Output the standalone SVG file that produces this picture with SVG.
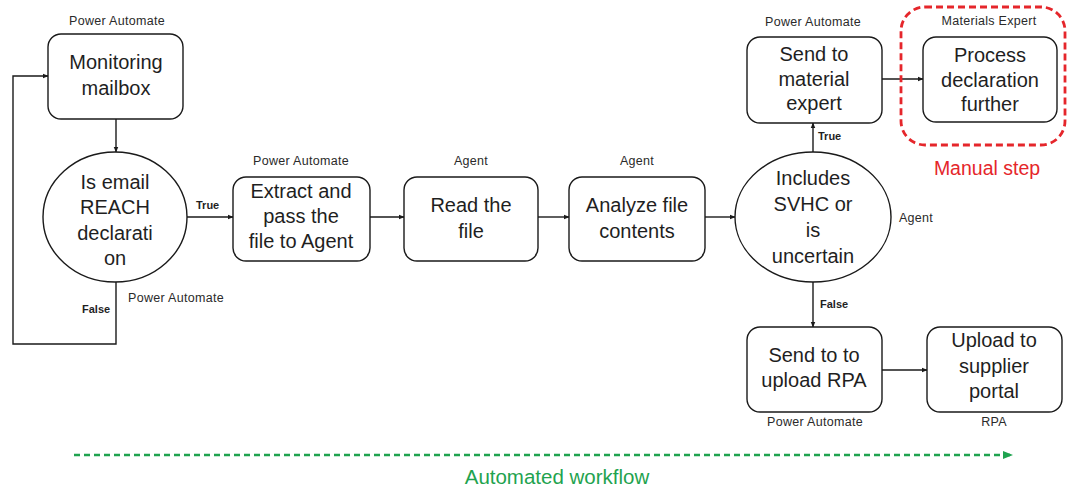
<svg xmlns="http://www.w3.org/2000/svg" width="1067" height="492" viewBox="0 0 1067 492">
  <defs>
    <marker id="arrow" viewBox="0 0 10 10" refX="9" refY="5" markerWidth="6" markerHeight="6" orient="auto" markerUnits="userSpaceOnUse">
      <path d="M0,1 L10,5 L0,9 z" fill="#1a1a1a"/>
    </marker>
    <marker id="arrow-green" viewBox="0 0 10 10" refX="9" refY="5" markerWidth="10" markerHeight="10" orient="auto" markerUnits="userSpaceOnUse">
      <path d="M0,1 L10,5 L0,9 z" fill="#1fa34f"/>
    </marker>
    <style>
      .box { fill: #ffffff; stroke: #1a1a1a; stroke-width: 1.4; }
      .main { font-family: "Liberation Sans", Arial, sans-serif; font-size: 20px; fill: #1f1f1f; text-anchor: middle; }
      .role { font-family: "Liberation Sans", Arial, sans-serif; font-size: 12.5px; letter-spacing: 0.3px; fill: #2a2a2a; text-anchor: middle; }
      .cond { font-family: "Liberation Sans", Arial, sans-serif; font-size: 11px; font-weight: bold; fill: #1f1f1f; }
      .link { fill: none; stroke: #1a1a1a; stroke-width: 1.4; marker-end: url(#arrow); }
      .red { font-family: "Liberation Sans", Arial, sans-serif; font-size: 19.5px; fill: #e5262b; text-anchor: middle; }
      .green { font-family: "Liberation Sans", Arial, sans-serif; font-size: 20.5px; fill: #1fa34f; text-anchor: middle; }
    </style>
  </defs>

  <rect width="1067" height="492" fill="#ffffff"/>

  <!-- connectors -->
  <g id="connectors">
    <path class="link" d="M116,119 V152"/>
    <path class="link" d="M187,217 H233"/>
    <path class="link" d="M116,282 V344 H13 V76 H48"/>
    <path class="link" d="M370,217 H404"/>
    <path class="link" d="M538,217 H569"/>
    <path class="link" d="M705,217 H735"/>
    <path class="link" d="M813,152 V123"/>
    <path class="link" d="M882,79 H923"/>
    <path class="link" d="M813,282 V327"/>
    <path class="link" d="M882,370 H927"/>
    <text class="cond" x="196" y="209">True</text>
    <text class="cond" x="82" y="313">False</text>
    <text class="cond" x="818" y="140">True</text>
    <text class="cond" x="820" y="308">False</text>
  </g>

  <!-- manual step frame -->
  <g id="manual-step">
    <rect x="901" y="7" width="164" height="138" rx="24" fill="none" stroke="#e5262b" stroke-width="2.8" stroke-dasharray="7 4"/>
    <text class="red" x="987" y="175">Manual step</text>
  </g>

  <!-- nodes -->
  <g id="monitoring-mailbox">
    <text class="role" x="117" y="25">Power Automate</text>
    <rect class="box" x="48" y="34" width="135" height="85" rx="13"/>
    <text class="main" x="116" y="69">Monitoring</text>
    <text class="main" x="116" y="95">mailbox</text>
  </g>

  <g id="is-reach-declaration">
    <ellipse class="box" cx="115" cy="217" rx="72" ry="65"/>
    <text class="main" x="115" y="189">Is email</text>
    <text class="main" x="115" y="214">REACH</text>
    <text class="main" x="115" y="240">declarati</text>
    <text class="main" x="115" y="265">on</text>
    <text class="role" x="176" y="302">Power Automate</text>
  </g>

  <g id="extract-and-pass">
    <text class="role" x="301" y="165">Power Automate</text>
    <rect class="box" x="233" y="177" width="137" height="84" rx="13"/>
    <text class="main" x="301" y="198">Extract and</text>
    <text class="main" x="301" y="223">pass the</text>
    <text class="main" x="301" y="248">file to Agent</text>
  </g>

  <g id="read-file">
    <text class="role" x="471" y="165">Agent</text>
    <rect class="box" x="404" y="177" width="134" height="84" rx="13"/>
    <text class="main" x="471" y="212">Read the</text>
    <text class="main" x="471" y="238">file</text>
  </g>

  <g id="analyze-contents">
    <text class="role" x="637" y="165">Agent</text>
    <rect class="box" x="569" y="177" width="136" height="84" rx="13"/>
    <text class="main" x="637" y="212">Analyze file</text>
    <text class="main" x="637" y="238">contents</text>
  </g>

  <g id="includes-svhc">
    <ellipse class="box" cx="813" cy="217" rx="78" ry="65"/>
    <text class="main" x="813" y="185">Includes</text>
    <text class="main" x="813" y="211">SVHC or</text>
    <text class="main" x="813" y="237">is</text>
    <text class="main" x="813" y="263">uncertain</text>
    <text class="role" x="916" y="222">Agent</text>
  </g>

  <g id="send-to-expert">
    <text class="role" x="813" y="26">Power Automate</text>
    <rect class="box" x="747" y="37" width="135" height="86" rx="13"/>
    <text class="main" x="814" y="61">Send to</text>
    <text class="main" x="814" y="86">material</text>
    <text class="main" x="814" y="110">expert</text>
  </g>

  <g id="process-declaration">
    <text class="role" x="989" y="25">Materials Expert</text>
    <rect class="box" x="923" y="37" width="134" height="85" rx="13"/>
    <text class="main" x="990" y="62">Process</text>
    <text class="main" x="990" y="87">declaration</text>
    <text class="main" x="990" y="111">further</text>
  </g>

  <g id="send-to-upload">
    <rect class="box" x="747" y="327" width="135" height="85" rx="13"/>
    <text class="main" x="814" y="362">Send to to</text>
    <text class="main" x="814" y="387">upload RPA</text>
    <text class="role" x="815" y="426">Power Automate</text>
  </g>

  <g id="upload-portal">
    <rect class="box" x="927" y="327" width="135" height="85" rx="13"/>
    <text class="main" x="994" y="347">Upload to</text>
    <text class="main" x="994" y="373">supplier</text>
    <text class="main" x="994" y="398">portal</text>
    <text class="role" x="994" y="426">RPA</text>
  </g>

  <!-- automated workflow band -->
  <g id="automated-workflow">
    <path d="M74,455 H1012" fill="none" stroke="#1fa34f" stroke-width="2.6" stroke-dasharray="6 4" marker-end="url(#arrow-green)"/>
    <text class="green" x="557" y="484">Automated workflow</text>
  </g>
</svg>
